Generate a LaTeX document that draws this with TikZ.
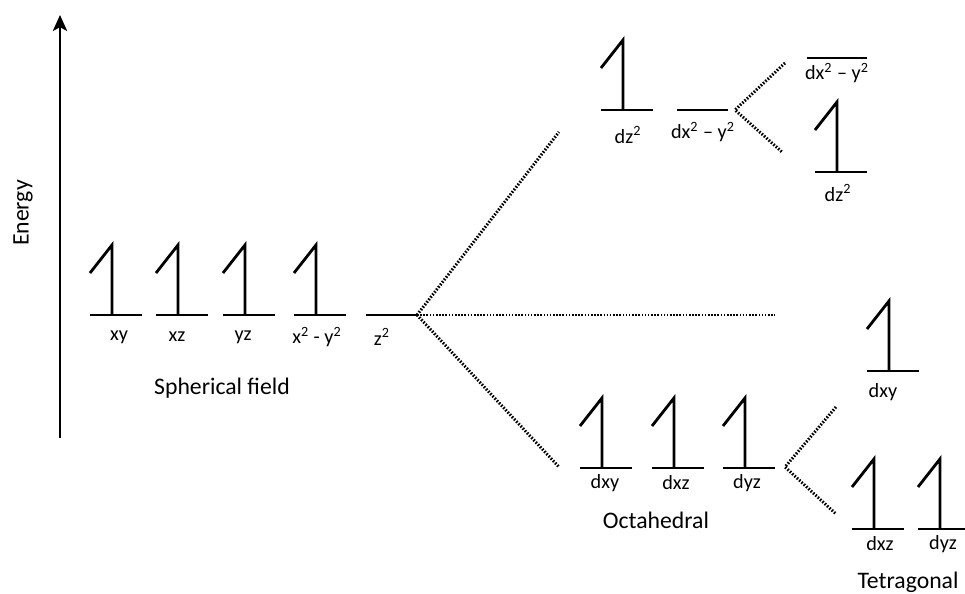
\documentclass[tikz,border=0pt]{standalone}
\usepackage{fontspec}
\setmainfont{Carlito}
\usetikzlibrary{arrows.meta}
\usetikzlibrary{positioning}

% one filled orbital: base line, stem and flag (name, x, y of the base's left end)
\def\spin#1#2#3{%
	\begin{scope}[shift={(#2,#3)}]
		\draw[orbline] (0,0) coordinate (#1-l) -- (52,0) coordinate (#1-r);
		\draw[orbline] (22,0) -- (22,-70) -- (0,-42);
	\end{scope}}
% one empty orbital
\def\empt#1#2#3#4{%
	\draw[orbline] (#2,#4) coordinate (#1-l) -- (#3,#4) coordinate (#1-r);}
\def\sq{\textsuperscript{2}}

\begin{document}
\begin{tikzpicture}[x=0.02cm,y=-0.02cm,
	orbline/.style={line width=1.6pt},
	split/.style={line width=1.7pt,dash pattern=on 0.9pt off 0.9pt},
	small/.style={font=\fontsize{11.5}{13}\selectfont,inner sep=1pt},
	big/.style={font=\fontsize{13.5}{16}\selectfont,inner sep=1pt}]
	\useasboundingbox (0,0) rectangle (965,594);
	
	% energy axis
	\coordinate (e0) at (60,438);
	\coordinate (e1) at (60,15);
	\draw[line width=1.5pt,-{Stealth[length=9pt,width=8pt,inset=2pt]}] (e0) -- (e1);
	\node[big,rotate=90] (energy) at (23,213) {Energy};
	
	% spherical field
	\spin{sxy}{90}{315}
	\spin{sxz}{156}{315}
	\spin{syz}{223}{315}
	\spin{sx2}{294}{315}
	\empt{sz2}{366}{417}{315}
	\node[small] (lsxy) at (119,337) {xy};
	\node[small] (lsxz) at (177,337) {xz};
	\node[small] (lsyz) at (243,337) {yz};
	\node[small] (lsx2) at (317,337) {x\sq{} - y\sq};
	\node[small] (lsz2) at (382,337) {z\sq};
	\node[big] (sph) at (222,388) {Spherical field};
	
	% octahedral
	\spin{oz2}{601}{110}
	\empt{ox2}{677}{728}{110}
	\node[small] (loz2) at (628,135) {dz\sq};
	\node[small] (lox2) at (703,132) {dx\sq{} – y\sq};
	\spin{oxy}{580}{468}
	\spin{oxz}{652}{468}
	\spin{oyz}{723}{468}
	\node[small] (loxy) at (605,483) {dxy};
	\node[small] (loxz) at (676,483) {dxz};
	\node[small] (loyz) at (747,483) {dyz};
	\node[big] (octa) at (656,520) {Octahedral};
	
	% tetragonal
	\empt{tx2}{807}{867}{58}
	\node[small] (ltx2) at (837,73) {dx\sq{} – y\sq};
	\spin{tz2}{815}{172}
	\node[small] (ltz2) at (838,193) {dz\sq};
	\spin{txy}{867}{371}
	\node[small] (ltxy) at (883,392) {dxy};
	\spin{txz}{852}{529}
	\spin{tyz}{918}{529}
	\node[small] (ltxz) at (880,544) {dxz};
	\node[small] (ltyz) at (943,544) {dyz};
	\node[big] (tetra) at (908,582) {Tetragonal};
	
	% splitting lines
	\coordinate (eg) at (559,132);
	\coordinate (mid) at (775,315);
	\coordinate (t2g) at (559,467);
	\coordinate (egb) at (735,110);
	\coordinate (egu) at (785,63);
	\coordinate (egd) at (782,152);
	\coordinate (t2b) at (785,467);
	\coordinate (t2u) at (836,407);
	\coordinate (t2d) at (836,514);
	\draw[split] (sz2-r) -- (eg);
	\draw[split] (sz2-r) -- (mid);
	\draw[split] (sz2-r) -- (t2g);
	\draw[split] (egu) -- (egb) -- (egd);
	\draw[split] (t2u) -- (t2b) -- (t2d);
\end{tikzpicture}
\end{document}
